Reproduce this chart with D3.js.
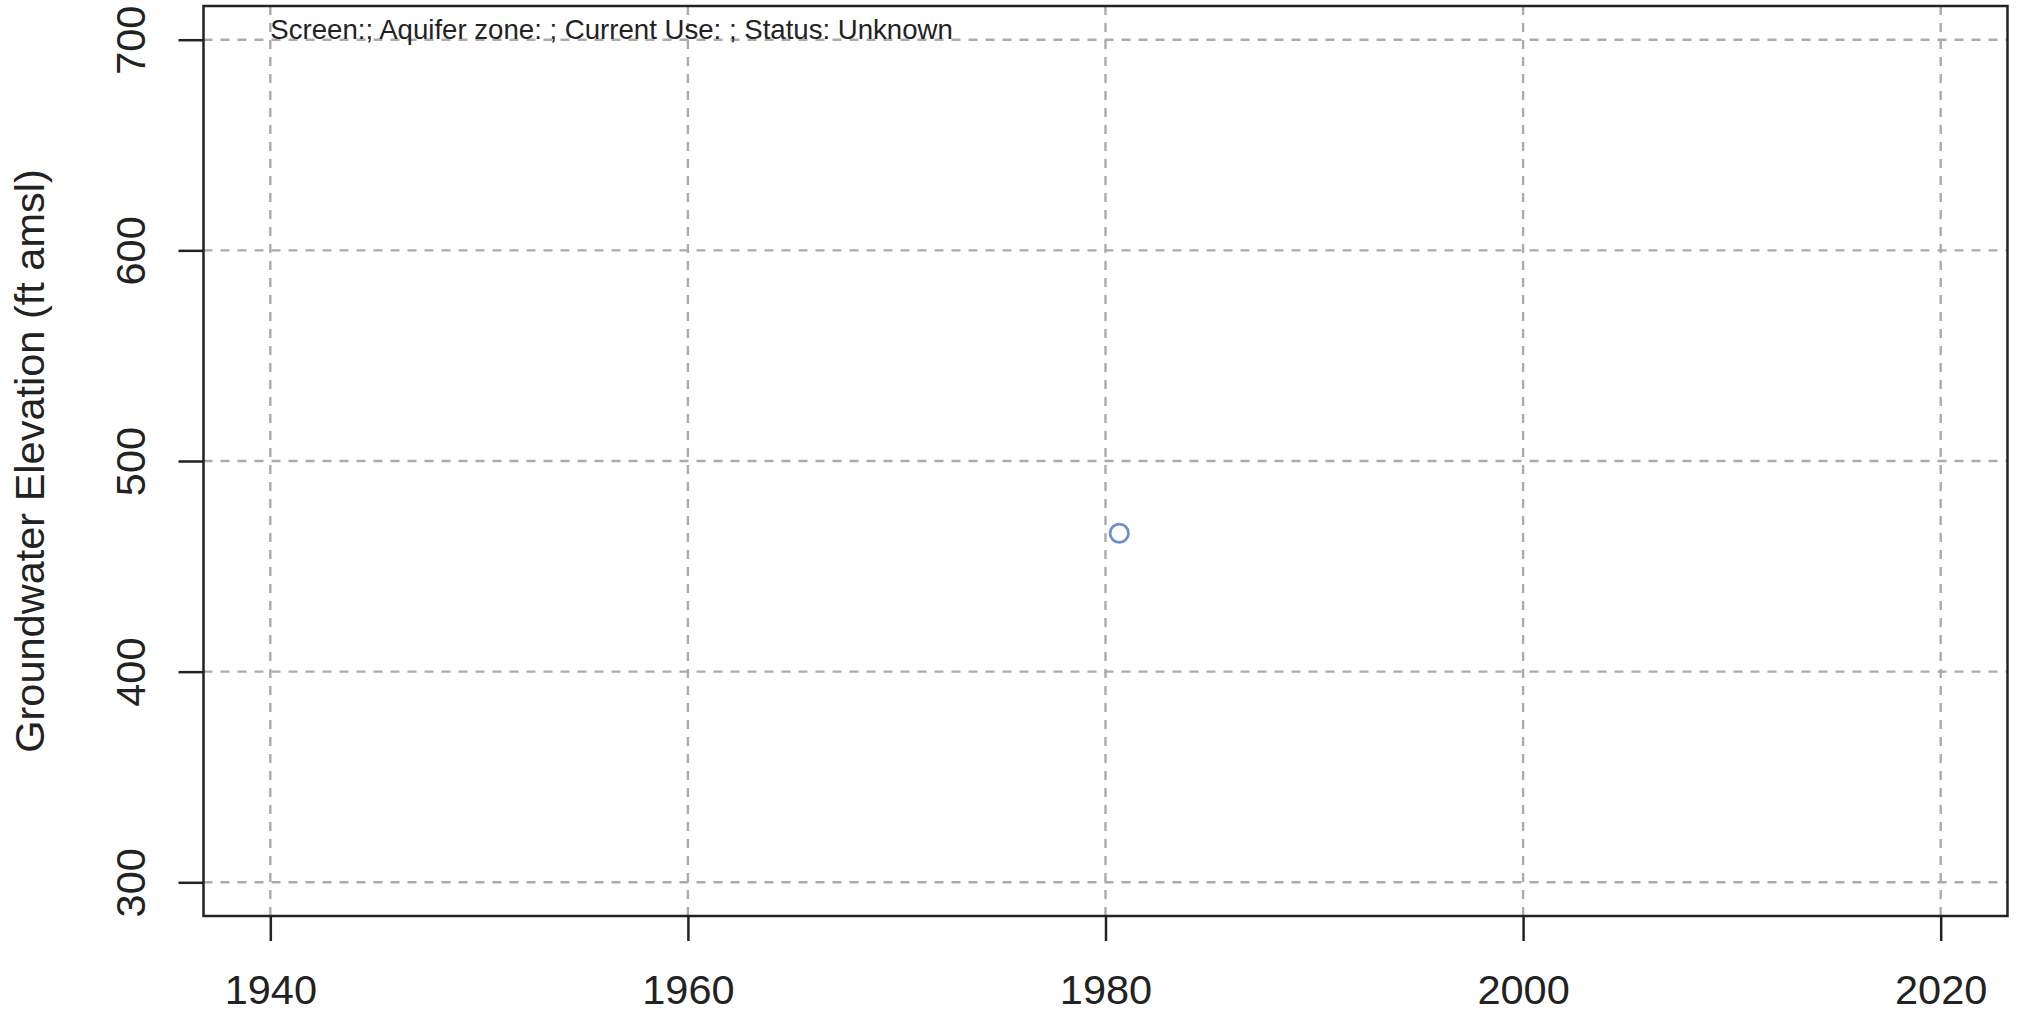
<!DOCTYPE html>
<html>
<head>
<meta charset="utf-8">
<script src="https://cdn.jsdelivr.net/npm/d3@7"></script>
<style>
  body { margin: 0; background: #fff; }
  svg { display: block; font-family: "Liberation Sans", Arial, sans-serif; }
</style>
</head>
<body>
<div class="chart"></div>
<script>
// data
var obsYears = [1980.66];
var obsElevations = [465.7];
var xTicks = [1940, 1960, 1980, 2000, 2020];
var yTicks = [300, 400, 500, 600, 700];
var xLimits = [1940, 2020];
var yLimits = [300, 700];
var titleText = "Screen:; Aquifer zone: ; Current Use: ; Status: Unknown";
var yLabel = "Groundwater Elevation (ft amsl)";

var svgWidth = 2021;
var svgHeight = 1013;
var fontSize = 41.5;

var box = { left: 203.5, right: 2007.5, top: 6, bottom: 916 };

var svg = d3.select(".chart")
  .append("svg")
  .attr("width", svgWidth)
  .attr("height", svgHeight);

// R style 4% padding of the axis ranges
function pad(lim) {
  var d = (lim[1] - lim[0]) * 0.04;
  return [lim[0] - d, lim[1] + d];
}

var x = d3.scaleLinear().domain(pad(xLimits)).range([box.left, box.right]);
var y = d3.scaleLinear().domain(pad(yLimits)).range([box.bottom, box.top]);

// grid
var grid = svg.append("g")
  .attr("stroke", "#ababab")
  .attr("stroke-width", 2.4)
  .attr("stroke-dasharray", "9,8");

grid.selectAll(".vgrid")
  .data(xTicks)
  .enter()
  .append("line")
  .attr("x1", d => x(d))
  .attr("x2", d => x(d))
  .attr("y1", box.top)
  .attr("y2", box.bottom);

grid.selectAll(".hgrid")
  .data(yTicks)
  .enter()
  .append("line")
  .attr("x1", box.left)
  .attr("x2", box.right)
  .attr("y1", d => y(d))
  .attr("y2", d => y(d));

// x axis
var xAxis = svg.append("g")
  .attr("transform", `translate(0, ${box.bottom})`)
  .call(d3.axisBottom(x).tickValues(xTicks).tickSize(25).tickPadding(34).tickFormat(d3.format("d")));

xAxis.select(".domain").remove();
xAxis.selectAll("line").attr("stroke", "#222").attr("stroke-width", 2.5);
xAxis.selectAll("text")
  .attr("font-size", fontSize)
  .attr("font-family", "Liberation Sans, Arial, sans-serif")
  .attr("fill", "#222");

// y axis
var yAxis = svg.append("g")
  .attr("transform", `translate(${box.left}, 0)`)
  .call(d3.axisLeft(y).tickValues(yTicks).tickSize(25).tickFormat(d3.format("d")));

yAxis.select(".domain").remove();
yAxis.selectAll("line").attr("stroke", "#222").attr("stroke-width", 2.5);
yAxis.selectAll("text")
  .attr("x", null)
  .attr("dy", null)
  .attr("transform", `translate(${145 - box.left}, 0) rotate(-90)`)
  .attr("text-anchor", "middle")
  .attr("font-size", fontSize)
  .attr("font-family", "Liberation Sans, Arial, sans-serif")
  .attr("fill", "#222");

// frame
svg.append("rect")
  .attr("x", box.left)
  .attr("y", box.top)
  .attr("width", box.right - box.left)
  .attr("height", box.bottom - box.top)
  .attr("fill", "none")
  .attr("stroke", "#222")
  .attr("stroke-width", 2.5);

// observations
svg.selectAll(".obs")
  .data(obsYears)
  .enter()
  .append("circle")
  .attr("cx", d => x(d))
  .attr("cy", (d, i) => y(obsElevations[i]))
  .attr("r", 9.2)
  .attr("fill", "none")
  .attr("stroke", "#6b8fcf")
  .attr("stroke-width", 2.7);

// header text inside plot
svg.append("text")
  .attr("x", x(xLimits[0]))
  .attr("y", y(yLimits[1]) - 1)
  .attr("font-size", 27.6)
  .attr("fill", "#222")
  .text(titleText);

// y label
svg.append("text")
  .attr("transform", `translate(44, ${(box.top + box.bottom) / 2}) rotate(-90)`)
  .attr("text-anchor", "middle")
  .attr("font-size", fontSize)
  .attr("fill", "#222")
  .text(yLabel);
</script>
</body>
</html>
